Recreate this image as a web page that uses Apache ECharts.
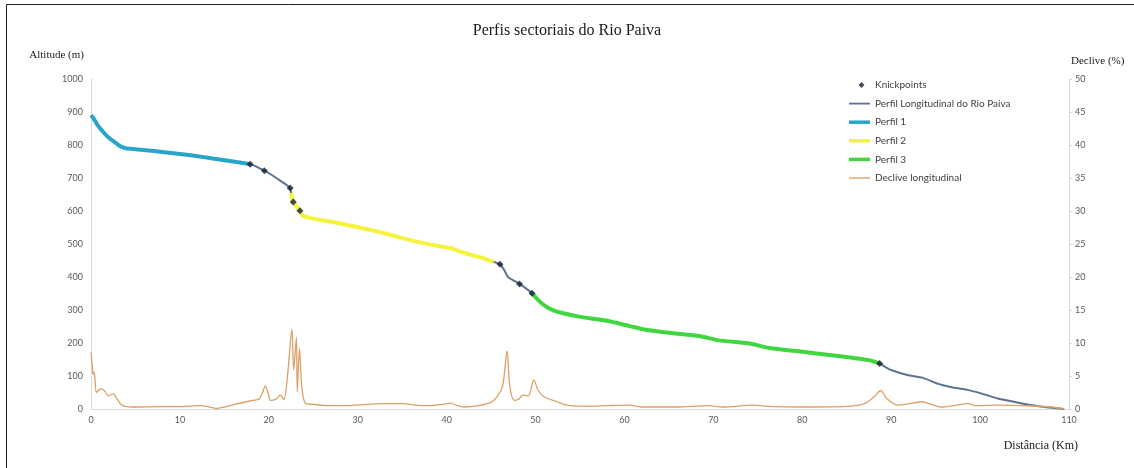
<!DOCTYPE html>
<html>
<head>
<meta charset="utf-8">
<script src="https://cdn.jsdelivr.net/npm/echarts@6/dist/echarts.min.js"></script>
<style>
  html, body { margin: 0; padding: 0; background: #ffffff; }
  #chart { width: 1134px; height: 468px; }
</style>
</head>
<body>
<div id="chart"></div>
<script>
// ---- Data ----
const titleText = 'Perfis sectoriais do Rio Paiva';
const xTicks = [0, 10, 20, 30, 40, 50, 60, 70, 80, 90, 100, 110];

// Longitudinal profile: distance (km) and altitude (m)
const profileKm = [0, 0.3, 0.7, 1.35, 2.0, 2.7, 3.3, 3.9, 5, 6.2, 8, 10, 12, 13.7, 16, 17.9,
  19.5, 21, 22.4, 22.5, 22.75, 23.5, 23.8, 24.5, 25.8, 27.5, 30.2, 32.5, 34.7, 37, 39.2, 40.5,
  41.4, 43.7, 45.3, 46.0, 46.5, 46.9, 47.5, 48.2, 49.6, 50.3, 51.1, 52, 53.0, 54.9, 57.9, 60.5,
  62.4, 65.3, 68.4, 70.6, 73.9, 76.5, 79.6, 81.4, 85.2, 87.5, 88.7, 89.3, 90.0, 91.8, 93.5,
  95.3, 96.8, 98.6, 100, 102, 103.8, 105.7, 107.5, 109.4];
const profileAlt = [890, 880, 862, 840, 822, 808, 796, 790, 787, 784, 779, 773, 766, 759, 750, 742,
  722, 697, 670, 655, 627, 601, 586, 580, 573, 565, 550, 536, 520, 505, 493, 487,
  478, 460, 446, 439, 420, 400, 390, 379, 351, 330, 312, 299, 291, 280, 268, 252,
  240, 230, 221, 208, 199, 184, 175, 169, 157, 148, 138, 128, 118, 103, 95,
  76, 66, 58, 48, 32, 22, 12, 5, 0];

// Sector limits (km)
const perfil1Range = [0, 17.9];
const perfil2Range = [22.5, 45.3];
const perfil3Range = [49.6, 88.7];

// Knickpoints (km, m)
const knickKm = [17.9, 19.5, 22.4, 22.75, 23.5, 46.0, 48.2, 49.6, 88.7];
const knickAlt = [742, 722, 670, 627, 601, 439, 379, 351, 138];

// Longitudinal slope: distance (km) and slope (%)
const slopeKm = [0, 0.15, 0.25, 0.35, 0.45, 0.6, 0.9, 1.2, 1.6, 1.95, 2.5, 2.9, 3.3, 3.8, 5, 8, 10,
  12.3, 13, 14, 15, 16.5, 18.2, 18.9, 19.3, 19.6, 19.9, 20.2, 20.8, 21.3, 21.7, 22.1, 22.6, 22.8,
  23.1, 23.2, 23.45, 23.7, 24.1, 25, 27, 29, 31, 33, 35, 36.5, 38, 39.5, 40.4, 41.2, 42, 43.5,
  45, 45.7, 46.3, 46.8, 47.1, 47.6, 48.1, 48.6, 49.2, 49.8, 50.3, 50.9, 52.4, 53.9, 56, 58, 60.5,
  62, 66, 69.5, 71, 74.5, 76, 80, 85, 87, 88.2, 88.8, 89.5, 90.7, 92, 93.5, 94.5, 95.6, 97, 98.6,
  99.5, 102, 105, 108, 109.5];
const slopePct = [8.6, 6.5, 5.2, 5.6, 4.5, 2.5, 2.9, 3.1, 2.6, 2.0, 2.3, 1.6, 0.8, 0.4, 0.3, 0.35, 0.35,
  0.5, 0.4, 0.1, 0.3, 0.8, 1.3, 1.5, 2.5, 3.5, 2.5, 1.3, 1.5, 2.1, 1.4, 5, 12.1, 5.9,
  10.9, 2.6, 9.2, 3.5, 0.9, 0.7, 0.5, 0.5, 0.7, 0.8, 0.8, 0.6, 0.5, 0.7, 0.9, 0.5, 0.3, 0.5,
  1.0, 1.9, 3.5, 8.8, 3.5, 1.3, 1.5, 2.1, 2.0, 4.4, 2.8, 1.9, 1.1, 0.5, 0.4, 0.5, 0.6,
  0.3, 0.3, 0.5, 0.3, 0.6, 0.4, 0.3, 0.4, 0.8, 2.0, 2.8, 1.6, 0.6, 0.8, 1.1, 0.7, 0.3, 0.5, 0.8,
  0.5, 0.6, 0.5, 0.3, 0];

const seriesNames = ['Knickpoints', 'Perfil Longitudinal do Rio Paiva', 'Perfil 1', 'Perfil 2', 'Perfil 3', 'Declive longitudinal'];

// ---- Build ----
const profile = profileKm.map((k, i) => [k, profileAlt[i]]);
const inRange = (r) => profile.filter(p => p[0] >= r[0] && p[0] <= r[1]);
const knicks = knickKm.map((k, i) => [k, knickAlt[i]]);
const slope = slopeKm.map((k, i) => [k, slopePct[i]]);

// legend icons: boxes padded to 21x7 so they are not stretched
const lineIcon = (h) => 'path://M0,0 L0,0 M0,' + (3.5 - h / 2) + ' L21,' + (3.5 - h / 2) + ' L21,' + (3.5 + h / 2) + ' L0,' + (3.5 + h / 2) + ' Z M21,7 L21,7';
const diamondIcon = 'path://M0,0 L0,0 M12.5,0.5 L15.5,3.5 L12.5,6.5 L9.5,3.5 Z M21,7 L21,7';

const chart = echarts.init(document.getElementById('chart'), null, { renderer: 'canvas' });

const tickFont = { fontFamily: 'Lato, "Liberation Sans", sans-serif', fontSize: 9, color: '#595959' };
const serif = '"Liberation Serif", "DejaVu Serif", serif';

chart.setOption({
  animation: false,
  backgroundColor: '#ffffff',
  title: {
    text: titleText,
    left: 'center',
    top: 18,
    textStyle: { fontFamily: serif, fontSize: 16, fontWeight: 'normal', color: '#1a1a1a' }
  },
  graphic: [{
    type: 'rect',
    shape: { x: 6.5, y: 4.5, width: 1300, height: 700 },
    style: { fill: 'none', stroke: '#222222', lineWidth: 1 },
    silent: true
  }],
  legend: {
    orient: 'vertical',
    left: 844,
    top: 74,
    itemWidth: 21,
    itemHeight: 7,
    itemGap: 6.6,
    symbolKeepAspect: false,
    textStyle: { fontFamily: 'Lato, "Liberation Sans", sans-serif', fontSize: 10, color: '#404040', lineHeight: 12 },
    data: [
      { name: seriesNames[0], icon: diamondIcon },
      { name: seriesNames[1], icon: lineIcon(1.8) },
      { name: seriesNames[2], icon: lineIcon(3.5) },
      { name: seriesNames[3], icon: lineIcon(3.5) },
      { name: seriesNames[4], icon: lineIcon(3.5) },
      { name: seriesNames[5], icon: lineIcon(1.3) }
    ]
  },
  grid: { left: 91, right: 65, top: 79, bottom: 59 },
  xAxis: {
    type: 'value',
    min: 0, max: 110, interval: 10,
    name: 'Distância (Km)',
    nameLocation: 'end',
    nameGap: 9,
    nameTextStyle: { fontFamily: serif, fontSize: 12, color: '#1a1a1a', align: 'right', verticalAlign: 'top', padding: [31, 0, 0, 0] },
    axisLine: { show: true, lineStyle: { color: '#d9d9d9', width: 1 } },
    axisTick: { show: false },
    axisLabel: Object.assign({ margin: 7, formatter: (v) => xTicks.includes(v) ? String(v) : '' }, tickFont),
    splitLine: { show: false }
  },
  yAxis: [{
    type: 'value',
    min: 0, max: 1000, interval: 100,
    name: 'Altitude (m)',
    nameLocation: 'end',
    nameGap: 18,
    nameTextStyle: { fontFamily: serif, fontSize: 11, color: '#1a1a1a', align: 'right', padding: [0, 7, 0, 0] },
    axisLine: { show: true, lineStyle: { color: '#d9d9d9', width: 1 } },
    axisTick: { show: false },
    axisLabel: Object.assign({ margin: 8, formatter: (v) => String(v) }, tickFont),
    splitLine: { show: false }
  }, {
    type: 'value',
    min: 0, max: 50, interval: 5,
    position: 'right',
    name: 'Declive (%)',
    nameLocation: 'end',
    nameGap: 12,
    nameTextStyle: { fontFamily: serif, fontSize: 11, color: '#1a1a1a', align: 'left', padding: [0, 0, 0, 2] },
    axisLine: { show: true, lineStyle: { color: '#d9d9d9', width: 1 } },
    axisTick: { show: true, length: 3, lineStyle: { color: '#d9d9d9' } },
    axisLabel: Object.assign({ margin: 6, formatter: (v) => String(v) }, tickFont),
    splitLine: { show: false }
  }],
  series: [
    {
      name: seriesNames[1], type: 'line', yAxisIndex: 0, data: profile,
      symbol: 'none', smooth: 0.2, z: 2,
      lineStyle: { color: '#5b7290', width: 2 }, itemStyle: { color: '#5b7290' }
    },
    {
      name: seriesNames[2], type: 'line', yAxisIndex: 0, data: inRange(perfil1Range),
      symbol: 'none', smooth: 0.2, z: 3,
      lineStyle: { color: '#29a5cb', width: 4 }, itemStyle: { color: '#29a5cb' }
    },
    {
      name: seriesNames[3], type: 'line', yAxisIndex: 0, data: inRange(perfil2Range),
      symbol: 'none', smooth: 0.2, z: 3,
      lineStyle: { color: '#f5f33c', width: 4 }, itemStyle: { color: '#f5f33c' }
    },
    {
      name: seriesNames[4], type: 'line', yAxisIndex: 0, data: inRange(perfil3Range),
      symbol: 'none', smooth: 0.2, z: 3,
      lineStyle: { color: '#3fd63f', width: 4 }, itemStyle: { color: '#3fd63f' }
    },
    {
      name: seriesNames[5], type: 'line', yAxisIndex: 1, data: slope,
      symbol: 'none', smooth: 0.3, z: 2,
      lineStyle: { color: '#dca065', width: 1.3 }, itemStyle: { color: '#dca065' }
    },
    {
      name: seriesNames[0], type: 'scatter', yAxisIndex: 0, data: knicks,
      symbol: 'diamond', symbolSize: 7, z: 5,
      itemStyle: { color: '#15202e' }
    }
  ]
});
</script>
</body>
</html>
